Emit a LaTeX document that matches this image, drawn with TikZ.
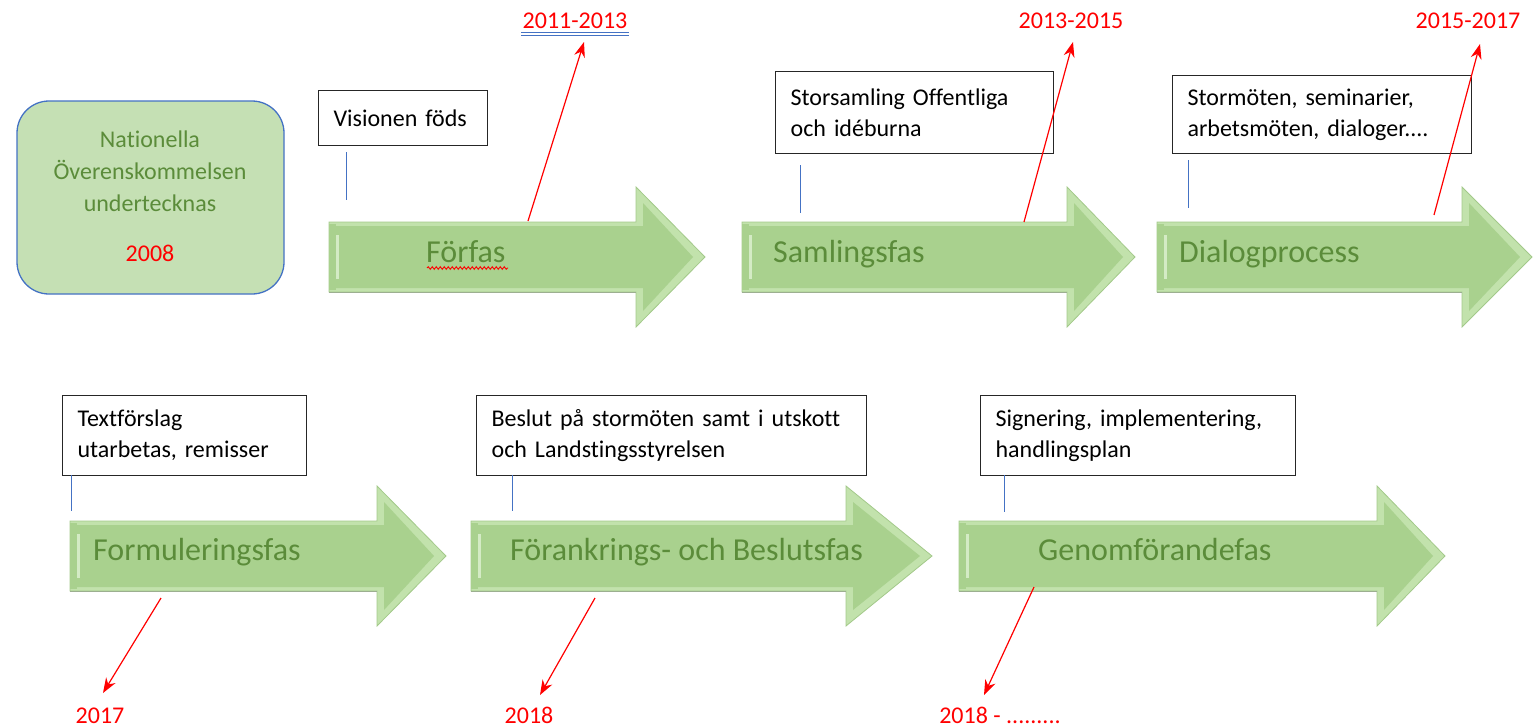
\documentclass[tikz,border=0pt]{standalone}
\usepackage{fontspec}
\setmainfont{Carlito}[Ligatures=NoCommon]
\usetikzlibrary{arrows.meta,decorations.pathmorphing}
\definecolor{arrowfill}{HTML}{A9D18E}
\definecolor{arrowlight}{HTML}{C2E2AC}
\definecolor{arrowedge}{HTML}{A3C98A}
\definecolor{phasegreen}{HTML}{5B8C3A}
\definecolor{boxgreen}{HTML}{C5E0B4}
\definecolor{wordblue}{HTML}{4472C4}
\definecolor{datered}{HTML}{FF0000}
\newcommand\phasearrow[4]{% x0, xh, xt, yc
  \filldraw[fill=arrowlight,draw=arrowedge,line width=0.8]
   (#1,#4-35) -- (#2,#4-35) -- (#2,#4-70) -- (#3,#4) -- (#2,#4+70) -- (#2,#4+35) -- (#1,#4+35) -- cycle;
  \fill[arrowfill] (#1+7,#4-31) -- (#2+7,#4-31) -- (#2+7,#4-54) -- (#3-12,#4) -- (#2+7,#4+54) -- (#2+7,#4+31) -- (#1+7,#4+31) -- cycle;
  \fill[arrowfill] (#1,#4-33) rectangle (#1+7,#4+33);
  \fill[arrowlight!70!white] (#1+7,#4-22) rectangle (#1+10,#4+22);
  \draw[arrowedge!70!black!70,line width=1] (#1,#4+35) -- (#2,#4+35);
}
\tikzset{
  infobox/.style={draw=black!85,line width=1.2,fill=white,anchor=north west,inner xsep=15,inner ysep=0,
     align=left,font=\fontsize{24}{31}\selectfont},
  phaselabel/.style={anchor=base west,inner sep=0,text=phasegreen,font=\fontsize{32}{38}\selectfont},
  datelabel/.style={anchor=base,inner sep=0,text=datered,font=\fontsize{24}{29}\selectfont},
  tick/.style={draw=wordblue,line width=1},
  datearrow/.style={draw=datered,line width=1.2,-{Stealth[length=15,width=11]}},
}
\begin{document}
\begin{tikzpicture}[x=1pt,y=-1pt]
\useasboundingbox (0,0) rectangle (1537,728);
% green start box
\filldraw[fill=boxgreen,draw=wordblue,line width=1.3,rounded corners=32] (17,101) rectangle (284,294);
\node[align=center,text=phasegreen,font=\fontsize{24}{32}\selectfont,inner sep=0] (start) at (150,196)
  {Nationella\\Överenskommelsen\\undertecknas\\[18pt]\textcolor{datered}{2008}};
% arrows row 1
\phasearrow{329}{636}{705}{257}
\phasearrow{742}{1067}{1135}{257}
\phasearrow{1157}{1462}{1532}{257}
% arrows row 2
\phasearrow{70}{377}{446}{556}
\phasearrow{471}{846}{932}{556}
\phasearrow{959}{1377}{1445}{556}
% phase labels
\node[phaselabel] (p1) at (426,262) {Förfas};
\draw[datered,line width=0.9,decorate,decoration={snake,amplitude=1.3,segment length=4}] (427,268) -- (508,268);
\node[phaselabel] (p2) at (773,262) {Samlingsfas};
\node[phaselabel] (p3) at (1179,262) {Dialogprocess};
\node[phaselabel] (p4) at (93,560) {Formuleringsfas};
\node[phaselabel] (p5) at (510,560) {Förankrings- och Beslutsfas};
\node[phaselabel] (p6) at (1038,560) {Genomförandefas};
% info boxes
\node[infobox,minimum width=169,minimum height=55,text width=139] (b1) at (318,90) {Visionen föds};
\node[infobox,minimum width=278,minimum height=82,text width=248] (b2) at (775,71) {Storsamling Offentliga\\och idéburna};
\node[infobox,minimum width=299,minimum height=78,text width=269] (b3) at (1172,75) {Stormöten, seminarier,\\arbetsmöten, dialoger....};
\node[infobox,minimum width=244,minimum height=80,text width=214] (b4) at (62,395) {Textförslag\\utarbetas, remisser};
\node[infobox,minimum width=390,minimum height=80,text width=360] (b5) at (476,395) {Beslut på stormöten samt i utskott\\och Landstingsstyrelsen};
\node[infobox,minimum width=315,minimum height=80,text width=285] (b6) at (980,395) {Signering, implementering,\\handlingsplan};
% ticks
\coordinate (t1a) at (346,152); \coordinate (t1b) at (346,200);
\coordinate (t2a) at (800,165); \coordinate (t2b) at (800,213);
\coordinate (t3a) at (1188,160); \coordinate (t3b) at (1188,208);
\coordinate (t4a) at (71,475); \coordinate (t4b) at (71,511);
\coordinate (t5a) at (512,475); \coordinate (t5b) at (512,511);
\coordinate (t6a) at (1004,475); \coordinate (t6b) at (1004,512);
\foreach \i in {1,...,6} {\draw[tick] (t\i a) -- (t\i b);}
% dates
\node[datelabel] (d1) at (575,28) {2011-2013};
\draw[wordblue,line width=1] (521,32) -- (629,32) (521,35.5) -- (629,35.5);
\node[datelabel] (d2) at (1071,28) {2013-2015};
\node[datelabel] (d3) at (1468,28) {2015-2017};
\node[datelabel] (d4) at (100,723) {2017};
\node[datelabel] (d5) at (529,723) {2018};
\node[datelabel] (d6) at (1000,723) {2018 - .........};
% date connectors
\coordinate (s1) at (528,221); \coordinate (e1) at (584,42);
\coordinate (s2) at (1024,222); \coordinate (e2) at (1073,42);
\coordinate (s3) at (1434,215); \coordinate (e3) at (1480,44);
\coordinate (s4) at (161,598); \coordinate (e4) at (103,693);
\coordinate (s5) at (595,598); \coordinate (e5) at (540,695);
\coordinate (s6) at (1034,587); \coordinate (e6) at (984,695);
\foreach \i in {1,...,6} {\draw[datearrow] (s\i) -- (e\i);}
\end{tikzpicture}
\end{document}
